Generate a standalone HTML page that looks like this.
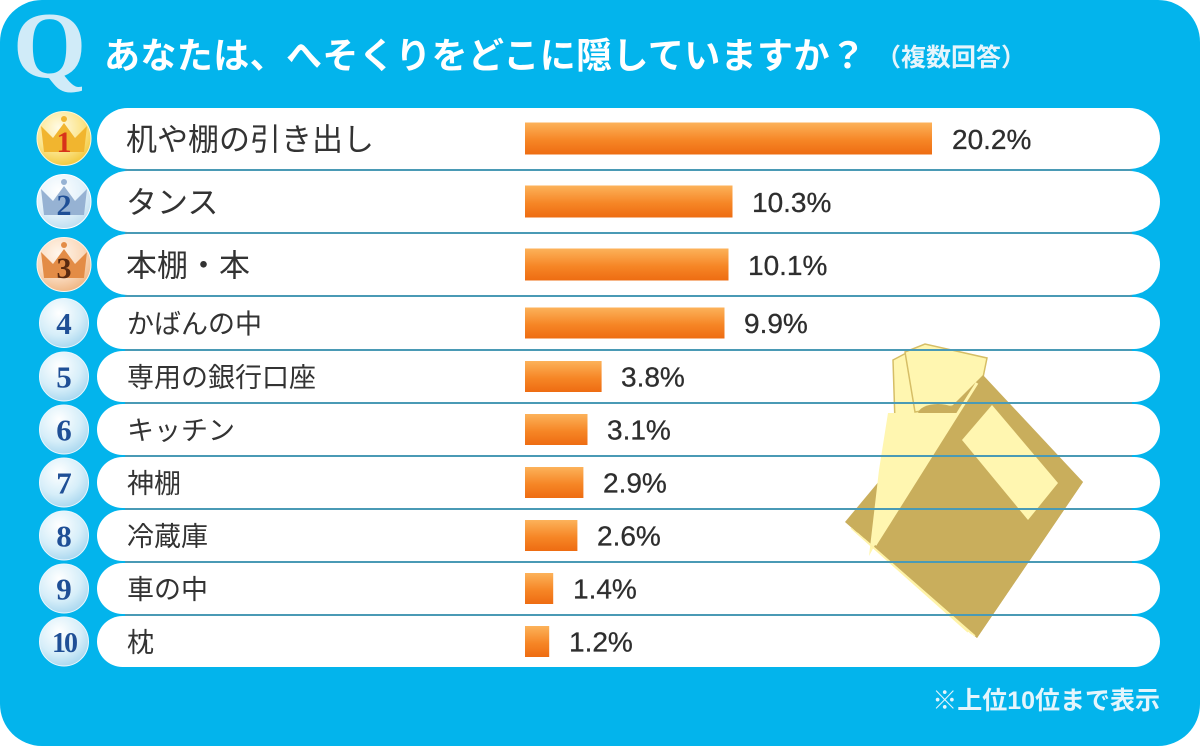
<!DOCTYPE html>
<html>
<head>
<meta charset="utf-8">
<style>
html,body{margin:0;padding:0;background:#fff;}
svg{display:block;}
.jp{font-family:"Liberation Sans","Noto Sans CJK JP",sans-serif;}
.num{font-family:"Liberation Serif","DejaVu Serif",serif;font-weight:bold;}
.pct{font-family:"Liberation Sans",sans-serif;fill:#2e2e2e;}
</style>
</head>
<body>
<svg width="1200" height="746" viewBox="0 0 1200 746" xmlns="http://www.w3.org/2000/svg">
<defs>
  <linearGradient id="bar" x1="0" y1="0" x2="0" y2="1">
    <stop offset="0" stop-color="#fcb25a"/>
    <stop offset="0.55" stop-color="#f68626"/>
    <stop offset="1" stop-color="#ee6c12"/>
  </linearGradient>
  <radialGradient id="blueC" cx="0.4" cy="0.3" r="0.75">
    <stop offset="0" stop-color="#ffffff"/>
    <stop offset="0.6" stop-color="#d6eef9"/>
    <stop offset="1" stop-color="#a6d5ee"/>
  </radialGradient>
  <radialGradient id="goldC" cx="0.4" cy="0.3" r="0.75">
    <stop offset="0" stop-color="#fffbe6"/>
    <stop offset="0.6" stop-color="#fbe48a"/>
    <stop offset="1" stop-color="#f2c536"/>
  </radialGradient>
  <radialGradient id="silverC" cx="0.4" cy="0.3" r="0.75">
    <stop offset="0" stop-color="#ffffff"/>
    <stop offset="0.6" stop-color="#e2f1fa"/>
    <stop offset="1" stop-color="#bcdcef"/>
  </radialGradient>
  <radialGradient id="bronzeC" cx="0.4" cy="0.3" r="0.75">
    <stop offset="0" stop-color="#fff6ec"/>
    <stop offset="0.6" stop-color="#fad9bc"/>
    <stop offset="1" stop-color="#eeb37f"/>
  </radialGradient>
</defs>

<!-- background -->
<rect x="0" y="0" width="1200" height="746" fill="#ffffff"/>
<rect x="0" y="0" width="1200" height="746" rx="42" ry="42" fill="#03b4ec"/>

<!-- title -->
<text x="13" y="77" class="num" font-size="94" fill="#d0ebf8">Q</text>
<text x="104" y="68" class="jp" font-size="36" font-weight="bold" fill="#ffffff" letter-spacing="0.4">あなたは、へそくりをどこに隠していますか？</text>
<text x="876" y="66" class="jp" font-size="25" font-weight="bold" fill="#e6f5fc">（複数回答）</text>

<!-- pills -->
<g fill="#ffffff">
  <rect x="97" y="108" width="1063" height="61" rx="30.5"/>
  <rect x="97" y="171" width="1063" height="61" rx="30.5"/>
  <rect x="97" y="234" width="1063" height="61" rx="30.5"/>
  <rect x="97" y="297" width="1063" height="52" rx="26"/>
  <rect x="97" y="351" width="1063" height="51" rx="25.5"/>
  <rect x="97" y="404" width="1063" height="51" rx="25.5"/>
  <rect x="97" y="457" width="1063" height="51" rx="25.5"/>
  <rect x="97" y="510" width="1063" height="51" rx="25.5"/>
  <rect x="97" y="563" width="1063" height="51" rx="25.5"/>
  <rect x="97" y="616" width="1063" height="51" rx="25.5"/>
</g>

<!-- illustration (wallet) -->
<g>
  <polygon points="893,360 912,350 965,357 955,418 895,422" fill="#fff6b0" stroke="#d6be66" stroke-width="1.5"/>
  <polygon points="905,352 925,344 987,358 978,402 915,412" fill="#fff6b0" stroke="#d6be66" stroke-width="1.5"/>
  <polygon points="845,522 890,468 983,375 1083,482 977,638" fill="#c9ae5c"/>
  <ellipse cx="938" cy="414" rx="20" ry="10" fill="#c9ae5c"/>
  <polygon points="888,413 958,413 875,545 869,556 879,470" fill="#fff6b0"/>
  <polygon points="875,545 977,383 1083,482 977,638" fill="#c9ae5c"/>
  <line x1="875" y1="545" x2="977" y2="383" stroke="#fff6b0" stroke-width="3"/>
  <line x1="851" y1="528" x2="968" y2="632" stroke="#fff3a8" stroke-width="1.5"/>
  <line x1="857" y1="533" x2="972" y2="634" stroke="#fff3a8" stroke-width="1.5"/>
  <line x1="864" y1="539" x2="975" y2="636" stroke="#fff3a8" stroke-width="1.5"/>
  <polygon points="962,440 992,405 1058,483 1028,520" fill="#fff6b0"/>
</g>

<!-- separator lines -->
<g fill="#4a9ab5">
  <rect x="125" y="169" width="1007" height="2"/>
  <rect x="125" y="232" width="1007" height="2"/>
  <rect x="125" y="295" width="1007" height="2"/>
  <rect x="125" y="349" width="1007" height="2"/>
  <rect x="125" y="402" width="1007" height="2"/>
  <rect x="125" y="455" width="1007" height="2"/>
  <rect x="125" y="508" width="1007" height="2"/>
  <rect x="125" y="561" width="1007" height="2"/>
  <rect x="125" y="614" width="1007" height="2"/>
</g>

<!-- medals 1-3 -->
<g>
  <circle cx="64" cy="138.5" r="27" fill="url(#goldC)" stroke="#fff6d6" stroke-width="1"/>
  <path d="M44,152 L41,126 L53,138 L64,123 L75,138 L87,126 L84,152 Z" fill="#f1b52f"/>
  <circle cx="64" cy="119" r="3" fill="#f1b52f"/>
  <text x="64" y="152" class="num" font-size="30" fill="#d8321a" text-anchor="middle">1</text>

  <circle cx="64" cy="201.5" r="27" fill="url(#silverC)" stroke="#ffffff" stroke-width="1"/>
  <path d="M44,215 L41,189 L53,201 L64,186 L75,201 L87,189 L84,215 Z" fill="#96b2d3"/>
  <circle cx="64" cy="182" r="3" fill="#96b2d3"/>
  <text x="64" y="215" class="num" font-size="30" fill="#1f4f96" text-anchor="middle">2</text>

  <circle cx="64" cy="264.5" r="27" fill="url(#bronzeC)" stroke="#fff3e8" stroke-width="1"/>
  <path d="M44,278 L41,252 L53,264 L64,249 L75,264 L87,252 L84,278 Z" fill="#e38c46"/>
  <circle cx="64" cy="245" r="3" fill="#e38c46"/>
  <text x="64" y="278" class="num" font-size="30" fill="#5a2a10" text-anchor="middle">3</text>
</g>

<!-- medals 4-10 -->
<g stroke="#eaf7fd" stroke-width="1" fill="url(#blueC)">
  <circle cx="64" cy="323" r="24.5"/>
  <circle cx="64" cy="376.5" r="24.5"/>
  <circle cx="64" cy="429.5" r="24.5"/>
  <circle cx="64" cy="482.5" r="24.5"/>
  <circle cx="64" cy="535.5" r="24.5"/>
  <circle cx="64" cy="588.5" r="24.5"/>
  <circle cx="64" cy="641.5" r="24.5"/>
</g>
<g class="num" font-size="31" fill="#1f4f96" text-anchor="middle">
  <text x="64" y="334">4</text>
  <text x="64" y="387.5">5</text>
  <text x="64" y="440.5">6</text>
  <text x="64" y="493.5">7</text>
  <text x="64" y="546.5">8</text>
  <text x="64" y="599.5">9</text>
  <text x="64" y="652" font-size="28" letter-spacing="-2">10</text>
</g>

<!-- labels -->
<g class="jp" fill="#333333">
  <text x="126" y="150.5" font-size="31">机や棚の引き出し</text>
  <text x="126" y="213.5" font-size="31">タンス</text>
  <text x="126" y="276.5" font-size="31">本棚・本</text>
  <text x="127" y="333.5" font-size="27">かばんの中</text>
  <text x="127" y="387" font-size="27">専用の銀行口座</text>
  <text x="127" y="440" font-size="27">キッチン</text>
  <text x="127" y="493" font-size="27">神棚</text>
  <text x="127" y="546" font-size="27">冷蔵庫</text>
  <text x="127" y="599" font-size="27">車の中</text>
  <text x="127" y="652" font-size="27">枕</text>
</g>

<!-- bars -->
<g fill="url(#bar)">
  <rect x="525" y="122.5" width="407" height="32"/>
  <rect x="525" y="185.5" width="207.5" height="32"/>
  <rect x="525" y="248.5" width="203.5" height="32"/>
  <rect x="525" y="307.5" width="199.5" height="31"/>
  <rect x="525" y="361" width="76.6" height="31"/>
  <rect x="525" y="414" width="62.5" height="31"/>
  <rect x="525" y="467" width="58.4" height="31"/>
  <rect x="525" y="520" width="52.4" height="31"/>
  <rect x="525" y="573" width="28.2" height="31"/>
  <rect x="525" y="626" width="24.2" height="31"/>
</g>

<!-- percentages -->
<g class="pct" font-size="28" stroke="#2e2e2e" stroke-width="0.3">
  <text x="952" y="149">20.2%</text>
  <text x="752" y="212">10.3%</text>
  <text x="748" y="275">10.1%</text>
  <text x="744" y="333">9.9%</text>
  <text x="621" y="386.5">3.8%</text>
  <text x="607" y="439.5">3.1%</text>
  <text x="603" y="492.5">2.9%</text>
  <text x="597" y="545.5">2.6%</text>
  <text x="573" y="598.5">1.4%</text>
  <text x="569" y="651.5">1.2%</text>
</g>

<!-- footnote -->
<text x="1160" y="709" class="jp" font-size="25" font-weight="bold" fill="#e4f5fc" text-anchor="end">※上位10位まで表示</text>
</svg>
</body>
</html>
